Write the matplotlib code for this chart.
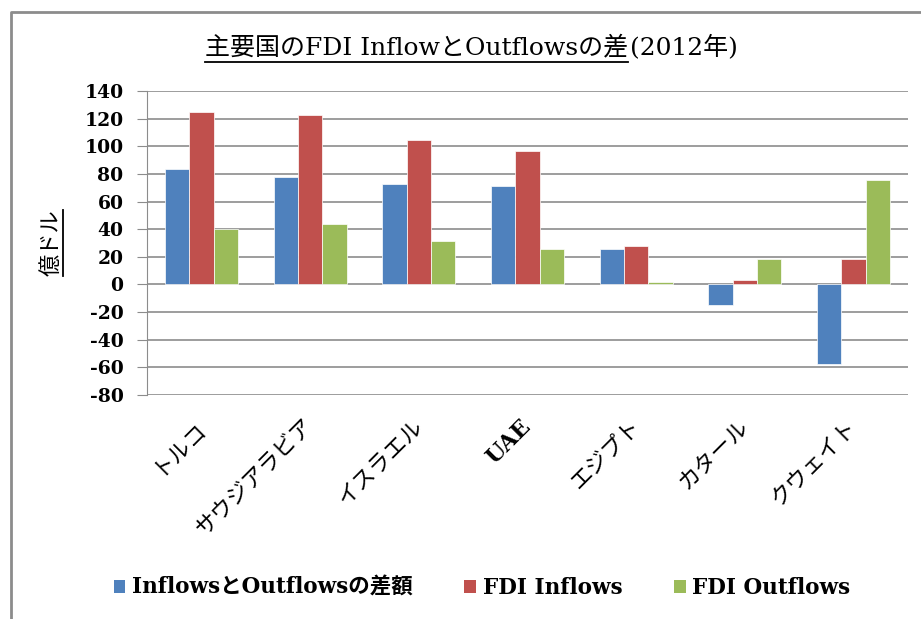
import numpy as np
import matplotlib
matplotlib.use("Agg")
import matplotlib.pyplot as plt
from matplotlib.patches import Patch
from matplotlib.lines import Line2D

countries = ["トルコ", "サウジアラビア", "イスラエル", "UAE", "エジプト", "カタール", "クウェイト"]
diff_vals = [83.3, 77.9, 72.6, 71.2, 26.0, -15.2, -57.9]
inflows = [124.5, 122.4, 104.7, 96.5, 27.7, 3.1, 18.3]
outflows = [40.3, 43.7, 31.4, 25.3, 1.7, 18.3, 75.7]
series_names = ["InflowsとOutflowsの差額", "FDI Inflows", "FDI Outflows"]
colors = ["#4F81BD", "#C0504D", "#9BBB59"]
yticks = list(range(-80, 141, 20))

SERIF = ["DejaVu Serif", "Noto Sans CJK JP"]
JP = ["Noto Sans CJK JP", "DejaVu Sans"]


def underline(fig, txt, pad=3, vertical=False):
    fig.canvas.draw()
    bb = txt.get_window_extent(fig.canvas.get_renderer())
    inv = fig.transFigure.inverted()
    if vertical:
        pts = inv.transform([(bb.x1 + pad, bb.y0), (bb.x1 + pad, bb.y1)])
    else:
        pts = inv.transform([(bb.x0, bb.y0 - pad), (bb.x1, bb.y0 - pad)])
    fig.add_artist(Line2D(pts[:, 0], pts[:, 1], color="black", lw=1.3, transform=fig.transFigure))


def main():
    fig = plt.figure(figsize=(9.21, 6.19), dpi=100)
    ax = fig.add_axes([147 / 921, 1 - 395 / 619, (908 - 147) / 921, (395 - 91) / 619])

    # outer chart frame (left and top only visible)
    fig.add_artist(Line2D([11 / 921, 11 / 921, 1.0], [0.0, 1 - 12 / 619, 1 - 12 / 619],
                          color="#8c8c8c", lw=2, transform=fig.transFigure))

    x = np.arange(len(countries))
    w = 0.224
    for i, (vals, col, name) in enumerate(zip([diff_vals, inflows, outflows], colors, series_names)):
        ax.bar(x + (i - 1) * w, vals, width=w, color=col, edgecolor="white", linewidth=0.5,
               label=name, zorder=3)

    ax.set_xlim(-0.5, len(countries) - 0.5)
    ax.set_ylim(-80, 140)
    ax.set_yticks(yticks)
    ax.set_yticklabels([str(v) for v in yticks], family=SERIF, fontweight="bold", fontsize=13.5)
    ax.yaxis.grid(True, color="#8c8c8c", lw=1.2, zorder=0)
    ax.tick_params(axis="y", length=7, color="#8c8c8c", pad=10)
    ax.tick_params(axis="x", length=0, pad=20)
    for s in ["top", "right", "bottom"]:
        ax.spines[s].set_visible(False)
    ax.spines["left"].set_color("#8c8c8c")

    ax.set_xticks(x)
    labels = ax.set_xticklabels(countries, rotation=45, ha="right", va="center",
                                rotation_mode="anchor", family=JP, fontsize=16)
    for lab in labels:
        if lab.get_text() == "UAE":
            lab.set_family(SERIF)
            lab.set_fontweight("bold")

    ylab = ax.set_ylabel("億ドル", family=JP, fontsize=16, labelpad=16)

    # title: underlined part + year
    t1 = fig.text(628 / 921, 1 - 47 / 619, "主要国のFDI InflowとOutflowsの差", ha="right", va="center",
                  family=SERIF, fontsize=18)
    fig.text(630 / 921, 1 - 47 / 619, "(2012年)", ha="left", va="center",
             family=SERIF, fontsize=18)

    handles = [Patch(facecolor=c, edgecolor="none") for c in colors]
    fig.legend(handles, series_names, loc="center", bbox_to_anchor=(482 / 921, 1 - 588 / 619),
               ncol=3, frameon=False, prop={"family": SERIF, "weight": "bold", "size": 15.5},
               handlelength=0.55, handleheight=0.55, handletextpad=0.3, columnspacing=2.4)

    underline(fig, t1)
    underline(fig, ylab, pad=1, vertical=True)
    fig.savefig("out.png", dpi=100)


if __name__ == "__main__":
    main()
